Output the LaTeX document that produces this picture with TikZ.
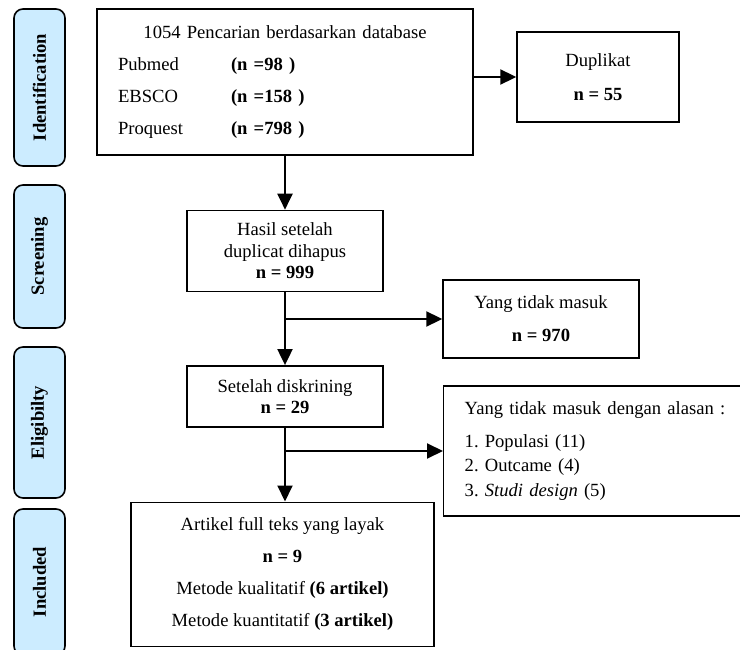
\documentclass[tikz,border=0pt]{standalone}
\usepackage{fontspec}
\setmainfont{Liberation Serif}
\usetikzlibrary{arrows.meta,positioning}
\definecolor{PhaseBlue}{HTML}{CCECFF}
\frenchspacing
\tikzset{
  flowbox/.style={draw, line width=1.4pt, align=center, inner sep=0pt,
    font=\fontsize{18.6}{#1}\selectfont},
  flowbox/.default={32},
  phasebox/.style={draw, line width=1.6pt, rounded corners=9pt, fill=PhaseBlue,
    rotate=90, minimum height=51pt, inner sep=0pt,
    font=\fontsize{18.6}{22}\selectfont\bfseries},
  flowarr/.style={-{Triangle[length=16pt,width=15pt]}, line width=2pt},
}

\begin{document}
\begin{tikzpicture}[x=1pt,y=1pt]
  \clip (0,0) rectangle (740,-650);
  % phase labels
  \node[phasebox, minimum width=157pt] (ident) at (39.5,-87.5) {Identification};
  \node[phasebox, minimum width=143pt] (screen) at (39.5,-256.5) {Screening};
  \node[phasebox, minimum width=151pt] (elig) at (39.5,-422.5) {Eligibilty};
  \node[phasebox, minimum width=146pt] (inclph) at (39.5,-582) {Included};
  % main column
  \node[flowbox, minimum width=376pt, minimum height=146pt, text width=334pt, align=left]
    (search) at (285,-82) {\makebox[334pt]{1054 Pencarian berdasarkan database}\\
      \makebox[113pt][l]{Pubmed}\textbf{(n =98 )}\\
      \makebox[113pt][l]{EBSCO}\textbf{(n =158 )}\\
      \makebox[113pt][l]{Proquest}\textbf{(n =798 )}};
  \node[flowbox=21.5, minimum width=196pt, minimum height=81pt, below=54pt of search]
    (clean) {Hasil setelah\\duplicat dihapus\\\textbf{n = 999}};
  \node[flowbox=21, minimum width=196pt, minimum height=61pt, below=73pt of clean]
    (screened) {Setelah diskrining\\\textbf{n = 29}};
  \node[flowbox, minimum width=303pt, minimum height=144pt, below=74pt of screened, xshift=-2.5pt]
    (incl) {Artikel full teks yang layak\\\textbf{n = 9}\\
      Metode kualitatif \textbf{(6 artikel)}\\Metode kuantitatif \textbf{(3 artikel)}};
  % excluded column
  \node[flowbox=34, minimum width=162pt, minimum height=90pt] (dup) at (598,-77)
    {Duplikat\\\textbf{n = 55}};
  \node[flowbox=33, minimum width=196pt, minimum height=78pt] (excl) at (541,-319)
    {Yang tidak masuk\\\textbf{n = 970}};
  \node[flowbox=24.5, anchor=west, inner xsep=21pt, text width=281pt, minimum height=130pt, align=left]
    (reason) at (443,-451) {Yang tidak masuk dengan alasan :\\[8.5pt]
      1. Populasi (11)\\2. Outcame (4)\\3. \textit{Studi design} (5)};
  % arrows
  \draw[flowarr] (search.east |- dup.west) -- (dup.west);
  \draw[flowarr] (search) -- (clean);
  \draw[flowarr] (clean) -- (screened);
  \draw[flowarr] (clean.south |- excl.west) -- (excl.west);
  \draw[flowarr] (screened.south) -- (screened.south |- incl.north);
  \draw[flowarr] (screened.south |- reason.west) -- (reason.west);
\end{tikzpicture}
\end{document}
